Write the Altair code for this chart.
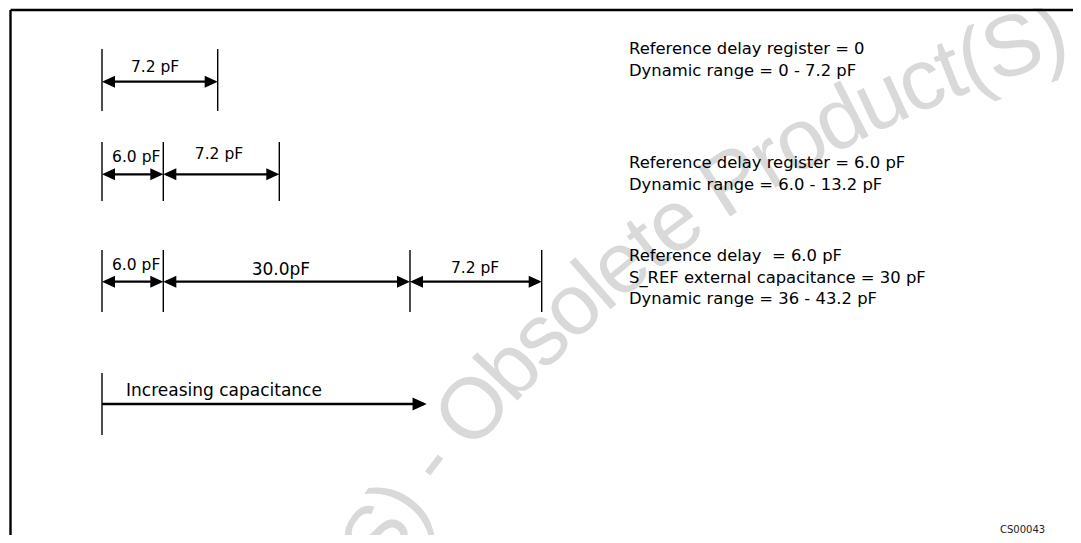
import math
import altair as alt
import pandas as pd

# ---------------- data ----------------
seg_labels = [["7.2 pF"], ["6.0 pF", "7.2 pF"], ["6.0 pF", "30.0pF", "7.2 pF"]]
seg_values_pf = [[7.2], [6.0, 7.2], [6.0, 30.0, 7.2]]
note_lines = [
    ["Reference delay register = 0", "Dynamic range = 0 - 7.2 pF"],
    ["Reference delay register = 6.0 pF", "Dynamic range = 6.0 - 13.2 pF"],
    ["Reference delay \u00a0= 6.0 pF", "S_REF external capacitance = 30 pF",
     "Dynamic range = 36 - 43.2 pF"],
]
axis_label = "Increasing capacitance"
figure_code = "CS00043"
watermark = "Obsolete Product(S) - Obsolete Product(S)"

# ---------------- layout (schematic, not to scale) ----------------
X0 = 102.0
seg_draw = [[115.7], [61.3, 116.0], [61.3, 246.7, 131.7]]
row_y = [81.7, 174.3, 281.7]
tick_span = [(49, 111), (142, 201), (250, 312)]
label_dx = [[-4.8], [3.6, -2.3], [3.5, -5.8, -0.8]]
label_base = [[72.0], [162.0, 158.7], [269.7, 275.0, 273.0]]
label_fs = [[15.5], [15.5, 15.5], [15.5, 17.0, 15.5]]
note_x = 629
note_first = [54.0, 168.0, 261.0]
note_step = 21.7
inc_tick = (373, 435)
inc_y = 404.0
inc_end = 426.7
inc_text = (126, 396.0)
code_pos = (1000, 532.5)

W, H = 1065, 527
xs = alt.Scale(domain=[8, 8 + W], nice=False, zero=False)
ys = alt.Scale(domain=[8, 8 + H], nice=False, zero=False, reverse=True)


def X(f):
    return alt.X(f, type="quantitative", scale=xs, axis=None)


def Y(f):
    return alt.Y(f, type="quantitative", scale=ys, axis=None)


# segments, ticks, heads
segs, ticks, heads_l, heads_r = [], [], [], []
for i, (labs, vals, lens) in enumerate(zip(seg_labels, seg_values_pf, seg_draw)):
    x = X0
    t0, t1 = tick_span[i]
    ticks.append(dict(x=x, y1=t0, y2=t1))
    for j, (lab, v, ln) in enumerate(zip(labs, vals, lens)):
        x1, x2 = x, x + ln
        segs.append(dict(x1=x1 + 3, x2=x2 - 3, y=row_y[i], label=lab, pf=v,
                         lx=(x1 + x2) / 2 + label_dx[i][j], ly=label_base[i][j],
                         fs=label_fs[i][j]))
        heads_l.append(dict(x=x1, y=row_y[i]))
        heads_r.append(dict(x=x2, y=row_y[i]))
        ticks.append(dict(x=x2, y1=t0, y2=t1))
        x = x2
ticks.append(dict(x=X0, y1=inc_tick[0], y2=inc_tick[1]))
seg_df = pd.DataFrame(segs)
tick_df = pd.DataFrame(ticks)
hl_df = pd.DataFrame(heads_l)
hr_df = pd.DataFrame(heads_r)

notes = []
for g, lines in enumerate(note_lines):
    for k, line in enumerate(lines):
        notes.append(dict(x=note_x, y=note_first[g] + k * note_step, t=line))
note_df = pd.DataFrame(notes)

# watermark: characters along an arc (Arial-like advance widths)
wid = {" ": .278, "(": .333, ")": .333, "-": .333, "O": .778, "P": .667, "S": .667,
       "b": .556, "c": .500, "d": .556, "e": .556, "l": .222, "o": .556, "r": .333,
       "s": .500, "t": .278, "u": .556}
wm_fs = 86          # glyph size
wm_adv = 82         # size used for spacing along the arc
cx, cy, R = 1380.0, 1200.0, 1213.0
wm_dx = 15.0
anchor_i = watermark.index("O", 1)
anchor_pt = (481.0, 413.0)
shift = -12.0
phi0 = math.atan2(anchor_pt[1] - cy, anchor_pt[0] - cx)
cum, centers = 0.0, []
for ch in watermark:
    w = wid[ch] * wm_adv
    centers.append(cum + w / 2)
    cum += w
wm = []
for k, ch in enumerate(watermark):
    if ch == " ":
        continue
    phi = phi0 + (centers[k] - centers[anchor_i] + shift) / R
    px, py = cx + R * math.cos(phi) + wm_dx, cy + R * math.sin(phi)
    if py > 8 + H + 60 or px < -60:
        continue
    ang = math.degrees(math.atan2(math.cos(phi), -math.sin(phi))) % 360
    wm.append(dict(x=px, y=py, c=ch, a=ang))
wm_df = pd.DataFrame(wm)

# ---------------- layers ----------------
wm_layer = alt.Chart(wm_df).mark_text(
    align="center", baseline="middle", font="Liberation Sans", fontSize=wm_fs,
    color="#d9d9d9", clip=True
).encode(x=X("x"), y=Y("y"), text="c:N", angle=alt.Angle("a:Q", scale=None))

border_df = pd.DataFrame([dict(x1=10.5, x2=8 + W, y1=10.0, y2=10.0),
                          dict(x1=10.5, x2=10.5, y1=10.0, y2=8 + H)])
border = alt.Chart(border_df).mark_rule(color="black", strokeWidth=2.4).encode(
    x=X("x1"), x2="x2", y=Y("y1"), y2="y2")

tick_layer = alt.Chart(tick_df).mark_rule(color="black", strokeWidth=1.4).encode(
    x=X("x"), y=Y("y1"), y2="y2")

shaft = alt.Chart(seg_df).mark_rule(color="black", strokeWidth=2.3).encode(
    x=X("x1"), x2="x2", y=Y("y"))

inc_df = pd.DataFrame([dict(x1=X0, x2=inc_end - 3, y=inc_y, hx=inc_end,
                            tx=inc_text[0], ty=inc_text[1], t=axis_label)])
inc_shaft = alt.Chart(inc_df).mark_rule(color="black", strokeWidth=2.3).encode(
    x=X("x1"), x2="x2", y=Y("y"))

right_path = "M0,0L-2,-0.92L-2,0.92Z"
left_path = "M0,0L2,-0.92L2,0.92Z"
head_r = alt.Chart(hr_df).mark_point(
    shape=right_path, size=169, filled=True, color="black", opacity=1, strokeWidth=0
).encode(x=X("x"), y=Y("y"))
head_l = alt.Chart(hl_df).mark_point(
    shape=left_path, size=169, filled=True, color="black", opacity=1, strokeWidth=0
).encode(x=X("x"), y=Y("y"))
inc_head = alt.Chart(inc_df).mark_point(
    shape=right_path, size=200, filled=True, color="black", opacity=1, strokeWidth=0
).encode(x=X("hx"), y=Y("y"))

seg_text = alt.Chart(seg_df).mark_text(
    align="center", baseline="alphabetic", font="DejaVu Sans", color="black"
).encode(x=X("lx"), y=Y("ly"), text="label:N", size=alt.Size("fs:Q", scale=None))

inc_label = alt.Chart(inc_df).mark_text(
    align="left", baseline="alphabetic", font="DejaVu Sans", fontSize=17, color="black"
).encode(x=X("tx"), y=Y("ty"), text="t:N")

note_text = alt.Chart(note_df).mark_text(
    align="left", baseline="alphabetic", font="DejaVu Sans", fontSize=16.4, color="black"
).encode(x=X("x"), y=Y("y"), text="t:N")

code_df = pd.DataFrame([dict(x=code_pos[0], y=code_pos[1], t=figure_code)])
code_text = alt.Chart(code_df).mark_text(
    align="left", baseline="alphabetic", font="DejaVu Sans", fontSize=10, color="#222222"
).encode(x=X("x"), y=Y("y"), text="t:N")

chart = alt.layer(
    wm_layer, border, tick_layer, shaft, inc_shaft, head_r, head_l, inc_head,
    seg_text, inc_label, note_text, code_text
).properties(
    width=W, height=H, padding=0,
    autosize=alt.AutoSizeParams(type="none"),
    background="white",
).configure_view(strokeWidth=0)

chart.save("out.html", embed_options={"renderer": "svg", "actions": False})
